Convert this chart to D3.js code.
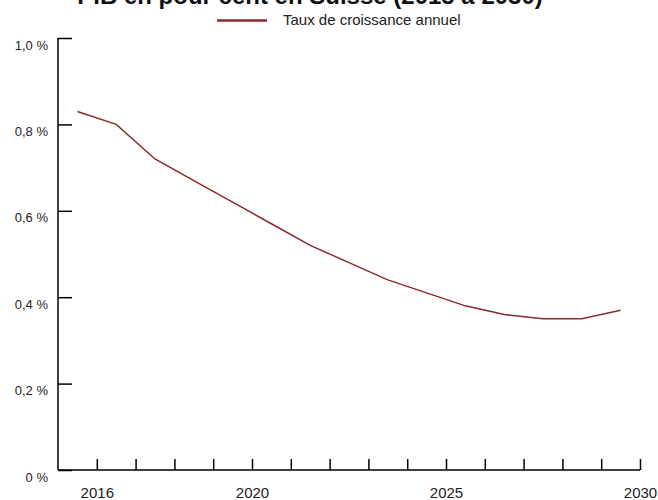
<!DOCTYPE html>
<html>
<head>
<meta charset="utf-8">
<script src="https://cdn.jsdelivr.net/npm/d3@7"></script>
<style>
  body { margin: 0; background: #fff; }
  svg { font-family: "Liberation Sans", Arial, sans-serif; }
</style>
</head>
<body>
<svg id="chart" width="658" height="500"></svg>
<script>
// Annual growth rate (plotted mid-year)
const years = [2015, 2016, 2017, 2018, 2019, 2020, 2021, 2022, 2023, 2024, 2025, 2026, 2027, 2028, 2029];
const growth = [0.83, 0.80, 0.72, 0.67, 0.62, 0.57, 0.52, 0.48, 0.44, 0.41, 0.38, 0.36, 0.35, 0.35, 0.37];
const yTicks = [0, 0.2, 0.4, 0.6, 0.8, 1.0];
const xLabels = [2016, 2020, 2025, 2030];
const seriesName = 'Taux de croissance annuel';
const title = 'PIB en pour cent en Suisse (2015 à 2030)';

const lineColor = '#8b2a2a';
const svg = d3.select('#chart');
const margin = { top: 38, left: 58, right: 18, bottom: 30 };
const width = 658, height = 500;

let xScale = d3.scaleLinear().domain([2015, 2030]).range([margin.left, width - margin.right]);
let yScale = d3.scaleLinear().domain([0, 1]).range([height - margin.bottom, margin.top]);

const data = years.map((y, i) => ({ year: y, value: growth[i] }));

// title (cut at the top like the original)
svg.append('text')
    .attr('x', 310)
    .attr('y', 4)
    .attr('text-anchor', 'middle')
    .style('font-size', '24px')
    .style('font-weight', 'bold')
    .style('fill', '#111')
    .text(title);

// legend
svg.append('line')
    .attr('x1', 217).attr('x2', 267)
    .attr('y1', 20.5).attr('y2', 20.5)
    .style('stroke', lineColor)
    .style('stroke-width', 2.5);
svg.append('text')
    .attr('x', 283)
    .attr('y', 25)
    .style('font-size', '15px')
    .style('fill', '#222')
    .text(seriesName);

// y axis, ticks pointing inward
let yAxis = svg.append('g')
    .attr('transform', `translate(${margin.left},0)`)
    .call(d3.axisRight(yScale)
        .tickValues(yTicks)
        .tickSize(14)
        .tickFormat(d => d === 0 ? '0 %' : d3.format('.1f')(d).replace('.', ',') + ' %'));
yAxis.select('.domain').attr('d', `M0,${yScale(1)}V${yScale(0)}`).style('stroke-width', 1.5);
yAxis.selectAll('.tick line').style('stroke-width', 1.5);
yAxis.selectAll('.tick text')
    .attr('x', -10)
    .attr('dy', '0.85em')
    .attr('text-anchor', 'end')
    .style('font-size', '13px')
    .style('fill', '#222');

// x axis, a tick each year, labels on a few
let xAxis = svg.append('g')
    .attr('transform', `translate(0,${yScale(0)})`)
    .call(d3.axisTop(xScale)
        .tickValues(d3.range(2015, 2031))
        .tickSize(11)
        .tickFormat(d => xLabels.includes(d) ? d : ''));
xAxis.select('.domain').attr('d', `M${xScale(2015)},0H${xScale(2030)}`).style('stroke-width', 1.5);
xAxis.selectAll('.tick line').style('stroke-width', 1.5);
xAxis.selectAll('.tick').filter(d => d === 2015).select('line').remove();
xAxis.selectAll('.tick text')
    .attr('y', 28)
    .style('font-size', '15px')
    .style('fill', '#222');

// the line
const line = d3.line()
    .x(d => xScale(d.year + 0.5))
    .y(d => yScale(d.value));
svg.append('path')
    .datum(data)
    .attr('d', line)
    .style('fill', 'none')
    .style('stroke', lineColor)
    .style('stroke-width', 1.5);
</script>
</body>
</html>
